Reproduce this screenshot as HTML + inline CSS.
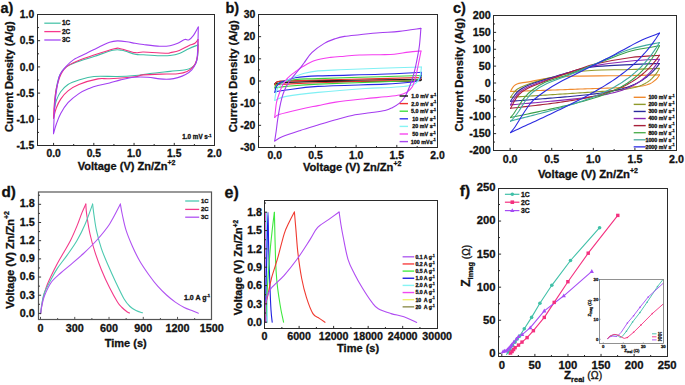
<!DOCTYPE html>
<html><head><meta charset="utf-8"><style>
html,body{margin:0;padding:0;background:#fff;}
body{width:685px;height:385px;overflow:hidden;}
svg{display:block;font-family:"Liberation Sans", sans-serif;}
text{stroke:#111;stroke-width:0.3px;paint-order:stroke;}
</style></head><body>
<svg width="685" height="385" viewBox="0 0 685 385">
<rect width="685" height="385" fill="#fff"/>
<rect x="37.5" y="14.5" width="177.0" height="131.0" fill="none" stroke="#2b2b2b" stroke-width="1"/>
<line x1="53.59" y1="145.5" x2="53.59" y2="142.9" stroke="#2b2b2b" stroke-width="1"/>
<line x1="93.82" y1="145.5" x2="93.82" y2="142.9" stroke="#2b2b2b" stroke-width="1"/>
<line x1="134.05" y1="145.5" x2="134.05" y2="142.9" stroke="#2b2b2b" stroke-width="1"/>
<line x1="174.27" y1="145.5" x2="174.27" y2="142.9" stroke="#2b2b2b" stroke-width="1"/>
<line x1="73.70" y1="145.5" x2="73.70" y2="144.0" stroke="#2b2b2b" stroke-width="1"/>
<line x1="113.93" y1="145.5" x2="113.93" y2="144.0" stroke="#2b2b2b" stroke-width="1"/>
<line x1="154.16" y1="145.5" x2="154.16" y2="144.0" stroke="#2b2b2b" stroke-width="1"/>
<line x1="194.39" y1="145.5" x2="194.39" y2="144.0" stroke="#2b2b2b" stroke-width="1"/>
<line x1="37.5" y1="40.70" x2="40.1" y2="40.70" stroke="#2b2b2b" stroke-width="1"/>
<line x1="37.5" y1="66.90" x2="40.1" y2="66.90" stroke="#2b2b2b" stroke-width="1"/>
<line x1="37.5" y1="93.10" x2="40.1" y2="93.10" stroke="#2b2b2b" stroke-width="1"/>
<line x1="37.5" y1="119.30" x2="40.1" y2="119.30" stroke="#2b2b2b" stroke-width="1"/>
<line x1="37.5" y1="27.60" x2="39.0" y2="27.60" stroke="#2b2b2b" stroke-width="1"/>
<line x1="37.5" y1="53.80" x2="39.0" y2="53.80" stroke="#2b2b2b" stroke-width="1"/>
<line x1="37.5" y1="80.00" x2="39.0" y2="80.00" stroke="#2b2b2b" stroke-width="1"/>
<line x1="37.5" y1="106.20" x2="39.0" y2="106.20" stroke="#2b2b2b" stroke-width="1"/>
<line x1="37.5" y1="132.40" x2="39.0" y2="132.40" stroke="#2b2b2b" stroke-width="1"/>
<text x="53.59" y="157.00" font-size="10.3" text-anchor="middle" font-weight="bold" fill="#111" >0.0</text>
<text x="93.82" y="157.00" font-size="10.3" text-anchor="middle" font-weight="bold" fill="#111" >0.5</text>
<text x="134.05" y="157.00" font-size="10.3" text-anchor="middle" font-weight="bold" fill="#111" >1.0</text>
<text x="174.27" y="157.00" font-size="10.3" text-anchor="middle" font-weight="bold" fill="#111" >1.5</text>
<text x="214.50" y="157.00" font-size="10.3" text-anchor="middle" font-weight="bold" fill="#111" >2.0</text>
<text x="34.20" y="18.20" font-size="10.3" text-anchor="end" font-weight="bold" fill="#111" >1.0</text>
<text x="34.20" y="44.40" font-size="10.3" text-anchor="end" font-weight="bold" fill="#111" >0.5</text>
<text x="34.20" y="70.60" font-size="10.3" text-anchor="end" font-weight="bold" fill="#111" >0.0</text>
<text x="34.20" y="96.80" font-size="10.3" text-anchor="end" font-weight="bold" fill="#111" >-0.5</text>
<text x="34.20" y="123.00" font-size="10.3" text-anchor="end" font-weight="bold" fill="#111" >-1.0</text>
<text x="34.20" y="149.20" font-size="10.3" text-anchor="end" font-weight="bold" fill="#111" >-1.5</text>
<text x="0.50" y="12.80" font-size="14.5" text-anchor="start" font-weight="bold" fill="#111" >a)</text>
<text x="0" y="0" font-size="11" font-weight="bold" text-anchor="start" fill="#111" transform="translate(12.6,131.9) rotate(-90)">Current Density (A/g)</text>
<text x="77.80" y="169.60" font-size="11" text-anchor="start" font-weight="bold" fill="#111" >Voltage (V) Zn/Zn<tspan font-size="7" dy="-4.5">+2</tspan></text>
<line x1="44.3" y1="23.2" x2="60.7" y2="23.2" stroke="#4cc4aa" stroke-width="1.3"/>
<text x="62.00" y="25.30" font-size="6.5" text-anchor="start" font-weight="bold" fill="#111" >1C</text>
<line x1="44.3" y1="31.6" x2="60.7" y2="31.6" stroke="#f7378d" stroke-width="1.3"/>
<text x="62.00" y="33.70" font-size="6.5" text-anchor="start" font-weight="bold" fill="#111" >2C</text>
<line x1="44.3" y1="40.0" x2="60.7" y2="40.0" stroke="#a347f5" stroke-width="1.3"/>
<text x="62.00" y="42.10" font-size="6.5" text-anchor="start" font-weight="bold" fill="#111" >3C</text>
<text x="182.30" y="139.30" font-size="6.3" text-anchor="start" font-weight="bold" fill="#111" >1.0 mV s<tspan font-size="4" dy="-2.5">-1</tspan></text>
<path d="M54.40,109.00 C54.50,107.50 54.73,103.17 55.00,100.00 C55.27,96.83 55.35,93.75 56.00,90.00 C56.65,86.25 57.82,80.75 58.90,77.50 C59.98,74.25 61.20,72.32 62.50,70.50 C63.80,68.68 64.32,68.02 66.70,66.60 C69.08,65.18 72.25,63.68 76.80,62.00 C81.35,60.32 88.02,58.45 94.00,56.50 C99.98,54.55 108.03,51.33 112.70,50.30 C117.37,49.27 118.28,49.65 122.00,50.30 C125.72,50.95 131.43,53.45 135.00,54.20 C138.57,54.95 139.28,54.55 143.40,54.80 C147.52,55.05 155.27,55.58 159.70,55.70 C164.13,55.82 166.73,55.87 170.00,55.50 C173.27,55.13 176.18,54.62 179.30,53.50 C182.42,52.38 185.58,50.23 188.70,48.80 C191.82,47.37 196.45,45.55 198.00,44.90" fill="none" stroke="#3fbfa5" stroke-width="1.1" stroke-linejoin="round" stroke-linecap="round"/>
<path d="M198.00,44.90 C197.95,46.72 198.08,52.68 197.70,55.80 C197.32,58.92 196.68,61.65 195.70,63.60 C194.72,65.55 193.48,66.47 191.80,67.50 C190.12,68.53 189.23,69.15 185.60,69.80 C181.97,70.45 175.93,70.78 170.00,71.40 C164.07,72.02 155.83,72.82 150.00,73.50 C144.17,74.18 140.43,75.00 135.00,75.50 C129.57,76.00 124.23,76.33 117.40,76.50 C110.57,76.67 100.42,75.92 94.00,76.50 C87.58,77.08 83.23,78.67 78.90,80.00 C74.57,81.33 71.03,82.53 68.00,84.50 C64.97,86.47 62.67,89.07 60.70,91.80 C58.73,94.53 57.25,98.03 56.20,100.90 C55.15,103.77 54.70,107.65 54.40,109.00" fill="none" stroke="#3fbfa5" stroke-width="1.1" stroke-linejoin="round" stroke-linecap="round"/>
<path d="M53.50,118.20 C53.58,116.50 53.70,111.87 54.00,108.00 C54.30,104.13 54.72,99.00 55.30,95.00 C55.88,91.00 56.52,87.55 57.50,84.00 C58.48,80.45 59.67,76.60 61.20,73.70 C62.73,70.80 64.10,68.68 66.70,66.60 C69.30,64.52 72.25,63.13 76.80,61.20 C81.35,59.27 87.75,57.08 94.00,55.00 C100.25,52.92 109.88,49.75 114.30,48.70 C118.72,47.65 117.05,48.05 120.50,48.70 C123.95,49.35 131.18,52.05 135.00,52.60 C138.82,53.15 138.12,51.90 143.40,52.00 C148.68,52.10 162.27,53.08 166.70,53.20 C171.13,53.32 167.90,53.17 170.00,52.70 C172.10,52.23 176.18,51.57 179.30,50.40 C182.42,49.23 186.10,46.88 188.70,45.70 C191.30,44.52 193.35,44.33 194.90,43.30 C196.45,42.27 197.48,40.13 198.00,39.50" fill="none" stroke="#f2307f" stroke-width="1.1" stroke-linejoin="round" stroke-linecap="round"/>
<path d="M198.00,39.50 C198.00,41.43 198.25,47.60 198.00,51.10 C197.75,54.60 197.28,57.90 196.50,60.50 C195.72,63.10 194.87,64.88 193.30,66.70 C191.73,68.52 189.68,70.23 187.10,71.40 C184.52,72.57 181.20,73.27 177.80,73.70 C174.40,74.13 172.43,73.80 166.70,74.00 C160.97,74.20 148.68,74.43 143.40,74.90 C138.12,75.37 140.63,76.17 135.00,76.80 C129.37,77.43 115.77,78.35 109.60,78.70 C103.43,79.05 103.12,77.93 98.00,78.90 C92.88,79.87 83.90,82.50 78.90,84.50 C73.90,86.50 71.03,88.47 68.00,90.90 C64.97,93.33 62.67,96.22 60.70,99.10 C58.73,101.98 57.40,105.02 56.20,108.20 C55.00,111.38 53.95,116.53 53.50,118.20" fill="none" stroke="#f2307f" stroke-width="1.1" stroke-linejoin="round" stroke-linecap="round"/>
<path d="M53.50,133.60 C53.58,131.33 53.78,124.77 54.00,120.00 C54.22,115.23 54.37,110.00 54.80,105.00 C55.23,100.00 55.78,94.97 56.60,90.00 C57.42,85.03 58.15,79.10 59.70,75.20 C61.25,71.30 63.57,69.20 65.90,66.60 C68.23,64.00 70.32,61.80 73.70,59.60 C77.08,57.40 82.03,55.47 86.20,53.40 C90.37,51.33 94.80,49.07 98.70,47.20 C102.60,45.33 106.48,43.25 109.60,42.20 C112.72,41.15 114.55,40.98 117.40,40.90 C120.25,40.82 123.77,41.30 126.70,41.70 C129.63,42.10 132.22,42.83 135.00,43.30 C137.78,43.77 139.28,44.02 143.40,44.50 C147.52,44.98 155.27,46.00 159.70,46.20 C164.13,46.40 166.98,46.18 170.00,45.70 C173.02,45.22 175.33,44.33 177.80,43.30 C180.27,42.27 182.98,40.07 184.80,39.50 C186.62,38.93 187.28,40.55 188.70,39.90 C190.12,39.25 191.70,37.75 193.30,35.60 C194.90,33.45 197.47,28.43 198.30,27.00" fill="none" stroke="#a23ff2" stroke-width="1.1" stroke-linejoin="round" stroke-linecap="round"/>
<path d="M198.30,27.00 C198.25,29.20 198.18,35.13 198.00,40.20 C197.82,45.27 197.58,53.50 197.20,57.40 C196.82,61.30 196.60,61.53 195.70,63.60 C194.80,65.67 193.48,67.98 191.80,69.80 C190.12,71.62 187.93,73.20 185.60,74.50 C183.27,75.80 180.40,76.83 177.80,77.60 C175.20,78.37 173.02,78.88 170.00,79.10 C166.98,79.32 163.37,79.22 159.70,78.90 C156.03,78.58 152.28,77.48 148.00,77.20 C143.72,76.92 138.58,76.75 134.00,77.20 C129.42,77.65 124.57,78.93 120.50,79.90 C116.43,80.87 113.35,82.07 109.60,83.00 C105.85,83.93 101.30,84.63 98.00,85.50 C94.70,86.37 92.98,86.85 89.80,88.20 C86.62,89.55 82.53,91.18 78.90,93.60 C75.27,96.02 71.03,99.37 68.00,102.70 C64.97,106.03 62.67,109.97 60.70,113.60 C58.73,117.23 57.40,121.17 56.20,124.50 C55.00,127.83 53.95,132.08 53.50,133.60" fill="none" stroke="#a23ff2" stroke-width="1.1" stroke-linejoin="round" stroke-linecap="round"/>
<path d="M274.80,84.00 C275.17,83.67 275.30,82.50 277.00,82.00 C278.70,81.50 277.83,81.23 285.00,81.00 C292.17,80.77 304.17,80.80 320.00,80.60 C335.83,80.40 363.12,80.03 380.00,79.80 C396.88,79.57 414.42,79.30 421.30,79.20" fill="none" stroke="#1a1a1a" stroke-width="1.1" stroke-linejoin="round" stroke-linecap="round"/>
<path d="M421.30,79.20 C420.92,79.47 422.55,80.47 419.00,80.80 C415.45,81.13 416.50,81.07 400.00,81.20 C383.50,81.33 339.17,81.37 320.00,81.60 C300.83,81.83 292.00,82.30 285.00,82.60 C278.00,82.90 279.70,83.17 278.00,83.40 C276.30,83.63 275.33,83.90 274.80,84.00" fill="none" stroke="#1a1a1a" stroke-width="1.1" stroke-linejoin="round" stroke-linecap="round"/>
<path d="M274.80,84.80 C275.08,84.37 275.63,82.80 276.50,82.20 C277.37,81.60 276.87,81.42 280.00,81.20 C283.13,80.98 288.97,81.10 295.30,80.90 C301.63,80.70 303.88,80.38 318.00,80.00 C332.12,79.62 362.78,79.02 380.00,78.60 C397.22,78.18 414.42,77.68 421.30,77.50" fill="none" stroke="#e8302a" stroke-width="1.1" stroke-linejoin="round" stroke-linecap="round"/>
<path d="M421.30,77.50 C421.00,77.88 421.38,79.28 419.50,79.80 C417.62,80.32 416.58,80.42 410.00,80.60 C403.42,80.78 395.33,80.55 380.00,80.90 C364.67,81.25 333.63,82.17 318.00,82.70 C302.37,83.23 292.87,83.78 286.20,84.10 C279.53,84.42 279.90,84.48 278.00,84.60 C276.10,84.72 275.33,84.77 274.80,84.80" fill="none" stroke="#e8302a" stroke-width="1.1" stroke-linejoin="round" stroke-linecap="round"/>
<path d="M274.80,88.00 C275.00,87.50 274.87,85.95 276.00,85.00 C277.13,84.05 278.38,83.22 281.60,82.30 C284.82,81.38 289.23,80.12 295.30,79.50 C301.37,78.88 303.88,79.07 318.00,78.60 C332.12,78.13 362.78,77.22 380.00,76.70 C397.22,76.18 414.42,75.70 421.30,75.50" fill="none" stroke="#3ad23a" stroke-width="1.1" stroke-linejoin="round" stroke-linecap="round"/>
<path d="M421.30,75.50 C421.08,76.00 421.55,77.67 420.00,78.50 C418.45,79.33 418.67,79.93 412.00,80.50 C405.33,81.07 395.67,81.30 380.00,81.90 C364.33,82.50 333.63,83.35 318.00,84.10 C302.37,84.85 292.87,85.85 286.20,86.40 C279.53,86.95 279.90,87.13 278.00,87.40 C276.10,87.67 275.33,87.90 274.80,88.00" fill="none" stroke="#3ad23a" stroke-width="1.1" stroke-linejoin="round" stroke-linecap="round"/>
<path d="M274.80,92.30 C274.92,91.75 275.27,89.92 275.50,89.00 C275.73,88.08 275.48,87.85 276.20,86.80 C276.92,85.75 278.13,83.75 279.80,82.70 C281.47,81.65 283.62,81.33 286.20,80.50 C288.78,79.67 290.00,78.47 295.30,77.70 C300.60,76.93 303.88,76.47 318.00,75.90 C332.12,75.33 362.77,74.90 380.00,74.30 C397.23,73.70 414.50,72.63 421.40,72.30" fill="none" stroke="#2828e6" stroke-width="1.1" stroke-linejoin="round" stroke-linecap="round"/>
<path d="M421.40,72.30 C421.25,73.20 421.12,76.33 420.50,77.70 C419.88,79.07 419.37,79.73 417.70,80.50 C416.03,81.27 415.95,81.70 410.50,82.30 C405.05,82.90 400.42,83.42 385.00,84.10 C369.58,84.78 334.47,85.42 318.00,86.40 C301.53,87.38 293.02,89.17 286.20,90.00 C279.38,90.83 279.00,91.02 277.10,91.40 C275.20,91.78 275.18,92.15 274.80,92.30" fill="none" stroke="#2828e6" stroke-width="1.1" stroke-linejoin="round" stroke-linecap="round"/>
<path d="M274.80,100.30 C274.92,99.42 274.97,97.10 275.50,95.00 C276.03,92.90 276.22,90.05 278.00,87.70 C279.78,85.35 283.32,82.78 286.20,80.90 C289.08,79.02 292.27,77.68 295.30,76.40 C298.33,75.12 300.62,74.12 304.40,73.20 C308.18,72.28 312.07,71.47 318.00,70.90 C323.93,70.33 329.67,70.23 340.00,69.80 C350.33,69.37 366.43,68.77 380.00,68.30 C393.57,67.83 414.50,67.22 421.40,67.00" fill="none" stroke="#7ff0f4" stroke-width="1.1" stroke-linejoin="round" stroke-linecap="round"/>
<path d="M421.40,67.00 C421.25,68.18 421.12,71.70 420.50,74.10 C419.88,76.50 419.07,79.58 417.70,81.40 C416.33,83.22 414.72,84.15 412.30,85.00 C409.88,85.85 407.75,86.05 403.20,86.50 C398.65,86.95 391.37,87.37 385.00,87.70 C378.63,88.03 376.17,87.72 365.00,88.50 C353.83,89.28 331.13,91.08 318.00,92.40 C304.87,93.72 293.03,95.22 286.20,96.40 C279.37,97.58 278.90,98.85 277.00,99.50 C275.10,100.15 275.17,100.17 274.80,100.30" fill="none" stroke="#7ff0f4" stroke-width="1.1" stroke-linejoin="round" stroke-linecap="round"/>
<path d="M274.70,117.50 C274.83,116.25 275.20,112.50 275.50,110.00 C275.80,107.50 276.02,104.83 276.50,102.50 C276.98,100.17 277.53,98.60 278.40,96.00 C279.27,93.40 280.50,89.50 281.70,86.90 C282.90,84.30 284.08,82.35 285.60,80.40 C287.12,78.45 289.07,76.72 290.80,75.20 C292.53,73.68 294.07,72.70 296.00,71.30 C297.93,69.90 299.25,68.60 302.40,66.80 C305.55,65.00 310.22,62.07 314.90,60.50 C319.58,58.93 325.57,58.12 330.50,57.40 C335.43,56.68 339.63,56.60 344.50,56.20 C349.37,55.80 353.78,55.25 359.70,55.00 C365.62,54.75 374.23,54.82 380.00,54.70 C385.77,54.58 389.53,54.73 394.30,54.30 C399.07,53.87 404.15,52.65 408.60,52.10 C413.05,51.55 418.93,51.18 421.00,51.00" fill="none" stroke="#f43ef0" stroke-width="1.1" stroke-linejoin="round" stroke-linecap="round"/>
<path d="M421.00,51.00 C420.60,53.03 419.45,59.05 418.60,63.20 C417.75,67.35 416.95,71.97 415.90,75.90 C414.85,79.83 413.82,84.07 412.30,86.80 C410.78,89.53 408.93,90.93 406.80,92.30 C404.67,93.67 403.13,94.25 399.50,95.00 C395.87,95.75 390.75,96.18 385.00,96.80 C379.25,97.42 373.22,97.82 365.00,98.70 C356.78,99.58 343.53,100.95 335.70,102.10 C327.87,103.25 323.90,104.42 318.00,105.60 C312.10,106.78 306.78,107.72 300.30,109.20 C293.82,110.68 283.37,113.12 279.10,114.50 C274.83,115.88 275.43,117.00 274.70,117.50" fill="none" stroke="#f43ef0" stroke-width="1.1" stroke-linejoin="round" stroke-linecap="round"/>
<path d="M274.70,141.00 C274.95,139.33 275.72,134.50 276.20,131.00 C276.68,127.50 277.02,123.88 277.60,120.00 C278.18,116.12 279.02,111.27 279.70,107.70 C280.38,104.13 280.93,101.42 281.70,98.60 C282.47,95.78 283.22,93.40 284.30,90.80 C285.38,88.20 286.80,85.28 288.20,83.00 C289.60,80.72 290.97,79.27 292.70,77.10 C294.43,74.93 296.72,72.35 298.60,70.00 C300.48,67.65 301.80,65.88 304.00,63.00 C306.20,60.12 308.42,55.97 311.80,52.70 C315.18,49.43 320.40,45.73 324.30,43.40 C328.20,41.07 331.83,39.87 335.20,38.70 C338.57,37.53 340.42,37.07 344.50,36.40 C348.58,35.73 353.88,35.32 359.70,34.70 C365.52,34.08 372.82,33.25 379.40,32.70 C385.98,32.15 392.28,32.12 399.20,31.40 C406.12,30.68 417.28,28.90 420.90,28.40" fill="none" stroke="#a43cf0" stroke-width="1.1" stroke-linejoin="round" stroke-linecap="round"/>
<path d="M420.90,28.40 C420.67,31.17 420.03,40.42 419.50,45.00 C418.97,49.58 418.30,52.57 417.70,55.90 C417.10,59.23 416.65,61.67 415.90,65.00 C415.15,68.33 414.27,72.27 413.20,75.90 C412.13,79.53 410.87,83.32 409.50,86.80 C408.13,90.28 406.67,94.07 405.00,96.80 C403.33,99.53 401.62,101.38 399.50,103.20 C397.38,105.02 394.72,106.48 392.30,107.70 C389.88,108.92 388.72,109.65 385.00,110.50 C381.28,111.35 375.00,112.08 370.00,112.80 C365.00,113.52 360.72,113.63 355.00,114.80 C349.28,115.97 341.87,118.10 335.70,119.80 C329.53,121.50 323.90,123.23 318.00,125.00 C312.10,126.77 306.18,128.48 300.30,130.40 C294.42,132.32 286.97,134.73 282.70,136.50 C278.43,138.27 276.03,140.25 274.70,141.00" fill="none" stroke="#a43cf0" stroke-width="1.1" stroke-linejoin="round" stroke-linecap="round"/>
<rect x="258.5" y="14.5" width="179.0" height="133.0" fill="none" stroke="#2b2b2b" stroke-width="1"/>
<line x1="274.77" y1="147.5" x2="274.77" y2="144.9" stroke="#2b2b2b" stroke-width="1"/>
<line x1="315.45" y1="147.5" x2="315.45" y2="144.9" stroke="#2b2b2b" stroke-width="1"/>
<line x1="356.14" y1="147.5" x2="356.14" y2="144.9" stroke="#2b2b2b" stroke-width="1"/>
<line x1="396.82" y1="147.5" x2="396.82" y2="144.9" stroke="#2b2b2b" stroke-width="1"/>
<line x1="295.11" y1="147.5" x2="295.11" y2="146.0" stroke="#2b2b2b" stroke-width="1"/>
<line x1="335.80" y1="147.5" x2="335.80" y2="146.0" stroke="#2b2b2b" stroke-width="1"/>
<line x1="376.48" y1="147.5" x2="376.48" y2="146.0" stroke="#2b2b2b" stroke-width="1"/>
<line x1="417.16" y1="147.5" x2="417.16" y2="146.0" stroke="#2b2b2b" stroke-width="1"/>
<line x1="258.5" y1="36.67" x2="261.1" y2="36.67" stroke="#2b2b2b" stroke-width="1"/>
<line x1="258.5" y1="58.83" x2="261.1" y2="58.83" stroke="#2b2b2b" stroke-width="1"/>
<line x1="258.5" y1="81.00" x2="261.1" y2="81.00" stroke="#2b2b2b" stroke-width="1"/>
<line x1="258.5" y1="103.17" x2="261.1" y2="103.17" stroke="#2b2b2b" stroke-width="1"/>
<line x1="258.5" y1="125.33" x2="261.1" y2="125.33" stroke="#2b2b2b" stroke-width="1"/>
<line x1="258.5" y1="25.58" x2="260.0" y2="25.58" stroke="#2b2b2b" stroke-width="1"/>
<line x1="258.5" y1="47.75" x2="260.0" y2="47.75" stroke="#2b2b2b" stroke-width="1"/>
<line x1="258.5" y1="69.92" x2="260.0" y2="69.92" stroke="#2b2b2b" stroke-width="1"/>
<line x1="258.5" y1="92.08" x2="260.0" y2="92.08" stroke="#2b2b2b" stroke-width="1"/>
<line x1="258.5" y1="114.25" x2="260.0" y2="114.25" stroke="#2b2b2b" stroke-width="1"/>
<line x1="258.5" y1="136.42" x2="260.0" y2="136.42" stroke="#2b2b2b" stroke-width="1"/>
<text x="274.77" y="158.90" font-size="10.4" text-anchor="middle" font-weight="bold" fill="#111" >0.0</text>
<text x="315.45" y="158.90" font-size="10.4" text-anchor="middle" font-weight="bold" fill="#111" >0.5</text>
<text x="356.14" y="158.90" font-size="10.4" text-anchor="middle" font-weight="bold" fill="#111" >1.0</text>
<text x="396.82" y="158.90" font-size="10.4" text-anchor="middle" font-weight="bold" fill="#111" >1.5</text>
<text x="437.50" y="158.90" font-size="10.4" text-anchor="middle" font-weight="bold" fill="#111" >2.0</text>
<text x="255.40" y="18.20" font-size="10.4" text-anchor="end" font-weight="bold" fill="#111" >30</text>
<text x="255.40" y="40.37" font-size="10.4" text-anchor="end" font-weight="bold" fill="#111" >20</text>
<text x="255.40" y="62.53" font-size="10.4" text-anchor="end" font-weight="bold" fill="#111" >10</text>
<text x="255.40" y="84.70" font-size="10.4" text-anchor="end" font-weight="bold" fill="#111" >0</text>
<text x="255.40" y="106.87" font-size="10.4" text-anchor="end" font-weight="bold" fill="#111" >-10</text>
<text x="255.40" y="129.03" font-size="10.4" text-anchor="end" font-weight="bold" fill="#111" >-20</text>
<text x="255.40" y="151.20" font-size="10.4" text-anchor="end" font-weight="bold" fill="#111" >-30</text>
<text x="225.50" y="13.00" font-size="14.5" text-anchor="start" font-weight="bold" fill="#111" >b)</text>
<text x="0" y="0" font-size="11.15" font-weight="bold" text-anchor="start" fill="#111" transform="translate(237.0,132.2) rotate(-90)">Current Density (A/g)</text>
<text x="303.00" y="170.50" font-size="11.1" text-anchor="start" font-weight="bold" fill="#111" >Voltage (V) Zn/Zn<tspan font-size="7" dy="-4.5">+2</tspan></text>
<line x1="399.6" y1="96.00" x2="408" y2="96.00" stroke="#111" stroke-width="1.4"/>
<text x="411.30" y="97.90" font-size="5.4" text-anchor="start" font-weight="bold" fill="#111" >1.0 mV s<tspan font-size="3.5" dy="-2.2">-1</tspan></text>
<line x1="399.6" y1="103.60" x2="408" y2="103.60" stroke="#f03030" stroke-width="1.4"/>
<text x="411.30" y="105.50" font-size="5.4" text-anchor="start" font-weight="bold" fill="#111" >2.0 mV s<tspan font-size="3.5" dy="-2.2">-1</tspan></text>
<line x1="399.6" y1="111.20" x2="408" y2="111.20" stroke="#40e040" stroke-width="1.4"/>
<text x="411.00" y="113.10" font-size="5.4" text-anchor="start" font-weight="bold" fill="#111" >5.0 mV s<tspan font-size="3.5" dy="-2.2">-1</tspan></text>
<line x1="399.6" y1="118.80" x2="408" y2="118.80" stroke="#3333ee" stroke-width="1.4"/>
<text x="412.30" y="120.70" font-size="5.4" text-anchor="start" font-weight="bold" fill="#111" >10 mV s<tspan font-size="3.5" dy="-2.2">-1</tspan></text>
<line x1="399.6" y1="126.40" x2="408" y2="126.40" stroke="#88f4f4" stroke-width="1.4"/>
<text x="412.30" y="128.30" font-size="5.4" text-anchor="start" font-weight="bold" fill="#111" >20 mV s<tspan font-size="3.5" dy="-2.2">-1</tspan></text>
<line x1="399.6" y1="134.00" x2="408" y2="134.00" stroke="#f848f0" stroke-width="1.4"/>
<text x="412.30" y="135.90" font-size="5.4" text-anchor="start" font-weight="bold" fill="#111" >50 mV s<tspan font-size="3.5" dy="-2.2">-1</tspan></text>
<line x1="399.6" y1="141.60" x2="408" y2="141.60" stroke="#a848f0" stroke-width="1.4"/>
<text x="410.80" y="143.50" font-size="5.4" text-anchor="start" font-weight="bold" fill="#111" >100 mVs<tspan font-size="3.5" dy="-2.2">-1</tspan></text>
<path d="M510.50,91.50 C510.75,91.02 511.37,89.57 512.00,88.60 C512.63,87.63 513.47,86.47 514.30,85.70 C515.13,84.93 515.82,84.47 517.00,84.00 C518.18,83.53 519.00,83.33 521.40,82.90 C523.80,82.47 527.35,82.12 531.40,81.40 C535.45,80.68 539.77,79.43 545.70,78.60 C551.63,77.77 561.28,76.82 567.00,76.40 C572.72,75.98 572.83,76.20 580.00,76.10 C587.17,76.00 600.00,75.92 610.00,75.80 C620.00,75.68 631.75,75.55 640.00,75.40 C648.25,75.25 656.25,74.98 659.50,74.90" fill="none" stroke="#f08a2e" stroke-width="1.1" stroke-linejoin="round" stroke-linecap="round"/>
<polyline points="510.50,91.50 512.98,91.41 515.47,91.33 517.95,91.24 520.43,91.15 522.92,91.07 525.40,90.98 527.88,90.89 530.37,90.81 532.85,90.72 535.33,90.63 537.82,90.55 540.30,90.46 542.78,90.37 545.27,90.29 547.75,90.20 550.23,90.11 552.72,90.03 555.20,89.94 557.68,89.85 560.17,89.77 562.65,89.68 565.13,89.59 567.62,89.51 570.10,89.42 572.58,89.33 575.07,89.25 577.55,89.16 580.03,89.07 582.52,88.99 585.00,88.90 587.48,88.81 589.97,88.73 592.45,88.64 594.93,88.55 597.42,88.47 599.90,88.38 602.38,88.29 604.87,88.20 607.35,88.11 609.83,88.02 612.32,87.93 614.80,87.84 617.28,87.75 619.77,87.65 622.25,87.54 624.73,87.43 627.22,87.31 629.70,87.18 632.18,87.02 634.67,86.84 637.15,86.61 639.63,86.33 642.12,85.96 644.60,85.46 647.08,84.80 649.57,83.89 652.05,82.63 656.00,79.51 657.30,78.05 658.30,76.74 659.00,75.70 659.50,74.90" fill="none" stroke="#f08a2e" stroke-width="1.1" stroke-linejoin="round" stroke-linecap="round"/>
<path d="M510.50,97.30 C511.00,96.58 512.40,94.33 513.50,93.00 C514.60,91.67 515.30,90.52 517.10,89.30 C518.90,88.08 520.72,87.13 524.30,85.70 C527.88,84.27 533.83,82.13 538.60,80.70 C543.37,79.27 548.15,78.28 552.90,77.10 C557.65,75.92 562.58,74.55 567.10,73.60 C571.62,72.65 575.35,71.97 580.00,71.40 C584.65,70.83 586.50,70.52 595.00,70.20 C603.50,69.88 620.25,69.80 631.00,69.50 C641.75,69.20 654.75,68.58 659.50,68.40" fill="none" stroke="#8f9a2a" stroke-width="1.1" stroke-linejoin="round" stroke-linecap="round"/>
<polyline points="510.50,97.30 512.98,97.14 515.47,96.99 517.95,96.83 520.43,96.67 522.92,96.52 525.40,96.36 527.88,96.20 530.37,96.05 532.85,95.89 535.33,95.73 537.82,95.58 540.30,95.42 542.78,95.26 545.27,95.11 547.75,94.95 550.23,94.79 552.72,94.64 555.20,94.48 557.68,94.32 560.17,94.16 562.65,94.01 565.13,93.85 567.62,93.69 570.10,93.53 572.58,93.38 575.07,93.22 577.55,93.06 580.03,92.90 582.52,92.74 585.00,92.58 587.48,92.42 589.97,92.25 592.45,92.09 594.93,91.92 597.42,91.75 599.90,91.57 602.38,91.39 604.87,91.21 607.35,91.02 609.83,90.82 612.32,90.61 614.80,90.38 617.28,90.14 619.77,89.88 622.25,89.59 624.73,89.27 627.22,88.90 629.70,88.48 632.18,88.00 634.67,87.43 637.15,86.75 639.63,85.95 642.12,84.98 644.60,83.81 647.08,82.38 649.57,80.62 652.05,78.46 656.00,73.94 657.30,72.07 658.30,70.49 659.00,69.30 659.50,68.40" fill="none" stroke="#8f9a2a" stroke-width="1.1" stroke-linejoin="round" stroke-linecap="round"/>
<path d="M510.50,101.30 C511.08,100.42 512.65,97.77 514.00,96.00 C515.35,94.23 516.42,92.42 518.60,90.70 C520.78,88.98 522.58,87.60 527.10,85.70 C531.62,83.80 539.03,81.43 545.70,79.30 C552.37,77.17 561.38,74.57 567.10,72.90 C572.82,71.23 575.35,70.35 580.00,69.30 C584.65,68.25 586.50,67.38 595.00,66.60 C603.50,65.82 620.25,65.12 631.00,64.60 C641.75,64.08 654.75,63.68 659.50,63.50" fill="none" stroke="#2a2a9c" stroke-width="1.1" stroke-linejoin="round" stroke-linecap="round"/>
<polyline points="510.50,101.28 512.98,101.09 515.47,100.90 517.95,100.71 520.43,100.52 522.92,100.33 525.40,100.14 527.88,99.94 530.37,99.75 532.85,99.56 535.33,99.36 537.82,99.17 540.30,98.97 542.78,98.77 545.27,98.58 547.75,98.38 550.23,98.17 552.72,97.97 555.20,97.77 557.68,97.56 560.17,97.35 562.65,97.14 565.13,96.92 567.62,96.70 570.10,96.48 572.58,96.25 575.07,96.01 577.55,95.77 580.03,95.53 582.52,95.27 585.00,95.01 587.48,94.74 589.97,94.45 592.45,94.16 594.93,93.85 597.42,93.52 599.90,93.17 602.38,92.81 604.87,92.42 607.35,92.00 609.83,91.55 612.32,91.07 614.80,90.55 617.28,89.99 619.77,89.38 622.25,88.71 624.73,87.98 627.22,87.17 629.70,86.29 632.18,85.31 634.67,84.23 637.15,83.03 639.63,81.69 642.12,80.21 644.60,78.55 647.08,76.70 649.57,74.63 652.05,72.31 656.00,68.02 657.30,66.43 658.30,65.13 659.00,64.19 659.50,63.50" fill="none" stroke="#2a2a9c" stroke-width="1.1" stroke-linejoin="round" stroke-linecap="round"/>
<path d="M510.50,104.90 C511.08,103.92 512.65,100.98 514.00,99.00 C515.35,97.02 516.42,94.95 518.60,93.00 C520.78,91.05 522.58,89.42 527.10,87.30 C531.62,85.18 539.03,82.68 545.70,80.30 C552.37,77.92 561.38,74.83 567.10,73.00 C572.82,71.17 575.35,70.53 580.00,69.30 C584.65,68.07 586.50,66.98 595.00,65.60 C603.50,64.22 620.25,62.05 631.00,61.00 C641.75,59.95 654.75,59.58 659.50,59.30" fill="none" stroke="#8a2ab4" stroke-width="1.1" stroke-linejoin="round" stroke-linecap="round"/>
<polyline points="510.50,104.88 512.98,104.66 515.47,104.45 517.95,104.23 520.43,104.01 522.92,103.79 525.40,103.57 527.88,103.35 530.37,103.13 532.85,102.91 535.33,102.68 537.82,102.46 540.30,102.24 542.78,102.01 545.27,101.78 547.75,101.55 550.23,101.32 552.72,101.09 555.20,100.85 557.68,100.61 560.17,100.37 562.65,100.13 565.13,99.88 567.62,99.62 570.10,99.37 572.58,99.10 575.07,98.83 577.55,98.55 580.03,98.26 582.52,97.97 585.00,97.66 587.48,97.34 589.97,97.01 592.45,96.66 594.93,96.29 597.42,95.91 599.90,95.50 602.38,95.06 604.87,94.60 607.35,94.10 609.83,93.57 612.32,92.99 614.80,92.37 617.28,91.69 619.77,90.96 622.25,90.15 624.73,89.26 627.22,88.29 629.70,87.21 632.18,86.02 634.67,84.70 637.15,83.24 639.63,81.61 642.12,79.79 644.60,77.77 647.08,75.50 649.57,72.96 652.05,70.11 656.00,64.85 657.30,62.90 658.30,61.31 659.00,60.15 659.50,59.30" fill="none" stroke="#8a2ab4" stroke-width="1.1" stroke-linejoin="round" stroke-linecap="round"/>
<path d="M510.50,108.50 C511.17,107.25 513.08,103.33 514.50,101.00 C515.92,98.67 516.83,96.58 519.00,94.50 C521.17,92.42 523.05,90.75 527.50,88.50 C531.95,86.25 539.10,83.55 545.70,81.00 C552.30,78.45 561.38,75.23 567.10,73.20 C572.82,71.17 575.35,70.33 580.00,68.80 C584.65,67.27 586.50,65.88 595.00,64.00 C603.50,62.12 620.25,58.95 631.00,57.50 C641.75,56.05 654.75,55.67 659.50,55.30" fill="none" stroke="#a8203a" stroke-width="1.1" stroke-linejoin="round" stroke-linecap="round"/>
<polyline points="510.50,108.32 512.98,108.04 515.47,107.76 517.95,107.48 520.43,107.20 522.92,106.92 525.40,106.64 527.88,106.35 530.37,106.06 532.85,105.77 535.33,105.47 537.82,105.17 540.30,104.87 542.78,104.56 545.27,104.25 547.75,103.93 550.23,103.61 552.72,103.28 555.20,102.94 557.68,102.60 560.17,102.25 562.65,101.89 565.13,101.52 567.62,101.14 570.10,100.75 572.58,100.35 575.07,99.94 577.55,99.51 580.03,99.06 582.52,98.60 585.00,98.11 587.48,97.61 589.97,97.09 592.45,96.54 594.93,95.96 597.42,95.35 599.90,94.71 602.38,94.04 604.87,93.33 607.35,92.57 609.83,91.77 612.32,90.92 614.80,90.01 617.28,89.04 619.77,88.01 622.25,86.91 624.73,85.73 627.22,84.46 629.70,83.09 632.18,81.63 634.67,80.05 637.15,78.36 639.63,76.52 642.12,74.54 644.60,72.41 647.08,70.10 649.57,67.59 652.05,64.88 656.00,60.09 657.30,58.38 658.30,57.01 659.00,56.02 659.50,55.30" fill="none" stroke="#a8203a" stroke-width="1.1" stroke-linejoin="round" stroke-linecap="round"/>
<path d="M510.50,117.60 C511.00,117.00 512.40,115.52 513.50,114.00 C514.60,112.48 515.30,111.18 517.10,108.50 C518.90,105.82 521.92,100.87 524.30,97.90 C526.68,94.93 527.83,93.33 531.40,90.70 C534.97,88.07 539.75,84.72 545.70,82.10 C551.65,79.48 561.38,77.02 567.10,75.00 C572.82,72.98 573.68,72.42 580.00,70.00 C586.32,67.58 596.50,63.67 605.00,60.50 C613.50,57.33 621.92,53.45 631.00,51.00 C640.08,48.55 654.75,46.67 659.50,45.80" fill="none" stroke="#3aa04a" stroke-width="1.1" stroke-linejoin="round" stroke-linecap="round"/>
<polyline points="510.50,117.52 512.98,117.01 515.47,116.50 517.95,115.99 520.43,115.47 522.92,114.96 525.40,114.44 527.88,113.93 530.37,113.41 532.85,112.89 535.33,112.36 537.82,111.84 540.30,111.31 542.78,110.78 545.27,110.24 547.75,109.70 550.23,109.16 552.72,108.61 555.20,108.06 557.68,107.50 560.17,106.93 562.65,106.36 565.13,105.78 567.62,105.19 570.10,104.59 572.58,103.98 575.07,103.36 577.55,102.73 580.03,102.08 582.52,101.41 585.00,100.72 587.48,100.02 589.97,99.29 592.45,98.54 594.93,97.76 597.42,96.95 599.90,96.11 602.38,95.23 604.87,94.31 607.35,93.34 609.83,92.32 612.32,91.25 614.80,90.11 617.28,88.90 619.77,87.62 622.25,86.25 624.73,84.78 627.22,83.21 629.70,81.52 632.18,79.71 634.67,77.75 637.15,75.63 639.63,73.33 642.12,70.84 644.60,68.13 647.08,65.18 649.57,61.97 652.05,58.45 656.00,52.18 657.30,49.90 658.30,48.08 659.00,46.76 659.50,45.80" fill="none" stroke="#3aa04a" stroke-width="1.1" stroke-linejoin="round" stroke-linecap="round"/>
<path d="M510.50,121.30 C511.17,120.58 513.08,118.72 514.50,117.00 C515.92,115.28 517.08,113.83 519.00,111.00 C520.92,108.17 523.67,103.17 526.00,100.00 C528.33,96.83 529.50,94.75 533.00,92.00 C536.50,89.25 541.33,86.20 547.00,83.50 C552.67,80.80 561.50,77.92 567.00,75.80 C572.50,73.68 573.67,73.52 580.00,70.80 C586.33,68.08 596.50,63.13 605.00,59.50 C613.50,55.87 621.92,51.83 631.00,49.00 C640.08,46.17 654.75,43.58 659.50,42.50" fill="none" stroke="#40aaa0" stroke-width="1.1" stroke-linejoin="round" stroke-linecap="round"/>
<polyline points="510.50,121.00 512.98,120.38 515.47,119.77 517.95,119.15 520.43,118.52 522.92,117.90 525.40,117.27 527.88,116.64 530.37,116.01 532.85,115.37 535.33,114.72 537.82,114.08 540.30,113.42 542.78,112.76 545.27,112.10 547.75,111.43 550.23,110.75 552.72,110.06 555.20,109.37 557.68,108.66 560.17,107.95 562.65,107.22 565.13,106.48 567.62,105.73 570.10,104.97 572.58,104.19 575.07,103.40 577.55,102.58 580.03,101.75 582.52,100.90 585.00,100.02 587.48,99.12 589.97,98.19 592.45,97.23 594.93,96.24 597.42,95.22 599.90,94.15 602.38,93.05 604.87,91.90 607.35,90.71 609.83,89.46 612.32,88.15 614.80,86.79 617.28,85.35 619.77,83.84 622.25,82.26 624.73,80.58 627.22,78.82 629.70,76.95 632.18,74.97 634.67,72.87 637.15,70.64 639.63,68.27 642.12,65.75 644.60,63.06 647.08,60.18 649.57,57.11 652.05,53.83 656.00,48.12 657.30,46.10 658.30,44.49 659.00,43.34 659.50,42.50" fill="none" stroke="#40aaa0" stroke-width="1.1" stroke-linejoin="round" stroke-linecap="round"/>
<path d="M510.50,132.70 C511.25,131.75 513.42,129.28 515.00,127.00 C516.58,124.72 518.22,121.83 520.00,119.00 C521.78,116.17 523.55,113.05 525.70,110.00 C527.85,106.95 529.57,103.92 532.90,100.70 C536.23,97.48 541.18,93.80 545.70,90.70 C550.22,87.60 554.28,85.20 560.00,82.10 C565.72,79.00 574.50,74.87 580.00,72.10 C585.50,69.33 587.83,68.12 593.00,65.50 C598.17,62.88 604.92,59.58 611.00,56.40 C617.08,53.22 624.33,49.13 629.50,46.40 C634.67,43.67 637.00,42.22 642.00,40.00 C647.00,37.78 656.58,34.25 659.50,33.10" fill="none" stroke="#2a2ae0" stroke-width="1.1" stroke-linejoin="round" stroke-linecap="round"/>
<polyline points="510.50,132.54 512.98,131.41 515.47,130.28 517.95,129.14 520.43,128.00 522.92,126.86 525.40,125.72 527.88,124.58 530.37,123.44 532.85,122.29 535.33,121.14 537.82,119.99 540.30,118.83 542.78,117.67 545.27,116.50 547.75,115.34 550.23,114.16 552.72,112.98 555.20,111.80 557.68,110.61 560.17,109.41 562.65,108.21 565.13,107.00 567.62,105.77 570.10,104.54 572.58,103.30 575.07,102.05 577.55,100.78 580.03,99.50 582.52,98.21 585.00,96.90 587.48,95.57 589.97,94.22 592.45,92.85 594.93,91.46 597.42,90.04 599.90,88.60 602.38,87.12 604.87,85.61 607.35,84.06 609.83,82.48 612.32,80.85 614.80,79.17 617.28,77.44 619.77,75.65 622.25,73.81 624.73,71.89 627.22,69.90 629.70,67.83 632.18,65.67 634.67,63.42 637.15,61.06 639.63,58.58 642.12,55.98 644.60,53.24 647.08,50.35 649.57,47.29 652.05,44.06 656.00,38.50 657.30,36.55 658.30,35.01 659.00,33.90 659.50,33.10" fill="none" stroke="#2a2ae0" stroke-width="1.1" stroke-linejoin="round" stroke-linecap="round"/>
<rect x="493.5" y="15.5" width="183.0" height="135.0" fill="none" stroke="#2b2b2b" stroke-width="1"/>
<line x1="510.14" y1="150.5" x2="510.14" y2="147.9" stroke="#2b2b2b" stroke-width="1"/>
<line x1="551.73" y1="150.5" x2="551.73" y2="147.9" stroke="#2b2b2b" stroke-width="1"/>
<line x1="593.32" y1="150.5" x2="593.32" y2="147.9" stroke="#2b2b2b" stroke-width="1"/>
<line x1="634.91" y1="150.5" x2="634.91" y2="147.9" stroke="#2b2b2b" stroke-width="1"/>
<line x1="530.93" y1="150.5" x2="530.93" y2="149.0" stroke="#2b2b2b" stroke-width="1"/>
<line x1="572.52" y1="150.5" x2="572.52" y2="149.0" stroke="#2b2b2b" stroke-width="1"/>
<line x1="614.11" y1="150.5" x2="614.11" y2="149.0" stroke="#2b2b2b" stroke-width="1"/>
<line x1="655.70" y1="150.5" x2="655.70" y2="149.0" stroke="#2b2b2b" stroke-width="1"/>
<line x1="493.5" y1="32.38" x2="496.1" y2="32.38" stroke="#2b2b2b" stroke-width="1"/>
<line x1="493.5" y1="49.25" x2="496.1" y2="49.25" stroke="#2b2b2b" stroke-width="1"/>
<line x1="493.5" y1="66.12" x2="496.1" y2="66.12" stroke="#2b2b2b" stroke-width="1"/>
<line x1="493.5" y1="83.00" x2="496.1" y2="83.00" stroke="#2b2b2b" stroke-width="1"/>
<line x1="493.5" y1="99.88" x2="496.1" y2="99.88" stroke="#2b2b2b" stroke-width="1"/>
<line x1="493.5" y1="116.75" x2="496.1" y2="116.75" stroke="#2b2b2b" stroke-width="1"/>
<line x1="493.5" y1="133.62" x2="496.1" y2="133.62" stroke="#2b2b2b" stroke-width="1"/>
<line x1="493.5" y1="23.94" x2="495.0" y2="23.94" stroke="#2b2b2b" stroke-width="1"/>
<line x1="493.5" y1="40.81" x2="495.0" y2="40.81" stroke="#2b2b2b" stroke-width="1"/>
<line x1="493.5" y1="57.69" x2="495.0" y2="57.69" stroke="#2b2b2b" stroke-width="1"/>
<line x1="493.5" y1="74.56" x2="495.0" y2="74.56" stroke="#2b2b2b" stroke-width="1"/>
<line x1="493.5" y1="91.44" x2="495.0" y2="91.44" stroke="#2b2b2b" stroke-width="1"/>
<line x1="493.5" y1="108.31" x2="495.0" y2="108.31" stroke="#2b2b2b" stroke-width="1"/>
<line x1="493.5" y1="125.19" x2="495.0" y2="125.19" stroke="#2b2b2b" stroke-width="1"/>
<line x1="493.5" y1="142.06" x2="495.0" y2="142.06" stroke="#2b2b2b" stroke-width="1"/>
<text x="510.14" y="162.50" font-size="10.7" text-anchor="middle" font-weight="bold" fill="#111" >0.0</text>
<text x="551.73" y="162.50" font-size="10.7" text-anchor="middle" font-weight="bold" fill="#111" >0.5</text>
<text x="593.32" y="162.50" font-size="10.7" text-anchor="middle" font-weight="bold" fill="#111" >1.0</text>
<text x="634.91" y="162.50" font-size="10.7" text-anchor="middle" font-weight="bold" fill="#111" >1.5</text>
<text x="676.50" y="162.50" font-size="10.7" text-anchor="middle" font-weight="bold" fill="#111" >2.0</text>
<text x="490.80" y="19.00" font-size="10.8" text-anchor="end" font-weight="bold" fill="#111" >200</text>
<text x="490.80" y="35.88" font-size="10.8" text-anchor="end" font-weight="bold" fill="#111" >150</text>
<text x="490.80" y="52.75" font-size="10.8" text-anchor="end" font-weight="bold" fill="#111" >100</text>
<text x="490.80" y="69.62" font-size="10.8" text-anchor="end" font-weight="bold" fill="#111" >50</text>
<text x="490.80" y="86.50" font-size="10.8" text-anchor="end" font-weight="bold" fill="#111" >0</text>
<text x="490.80" y="103.38" font-size="10.8" text-anchor="end" font-weight="bold" fill="#111" >-50</text>
<text x="490.80" y="120.25" font-size="10.8" text-anchor="end" font-weight="bold" fill="#111" >-100</text>
<text x="490.80" y="137.12" font-size="10.8" text-anchor="end" font-weight="bold" fill="#111" >-150</text>
<text x="490.80" y="154.00" font-size="10.8" text-anchor="end" font-weight="bold" fill="#111" >-200</text>
<text x="453.00" y="12.60" font-size="14.5" text-anchor="start" font-weight="bold" fill="#111" >c)</text>
<text x="0" y="0" font-size="11.3" font-weight="bold" text-anchor="start" fill="#111" transform="translate(462.9,131.6) rotate(-90)">Current Density (A/g)</text>
<text x="537.90" y="177.60" font-size="11.3" text-anchor="start" font-weight="bold" fill="#111" >Voltage (V) Zn/Zn<tspan font-size="7" dy="-4.5">+2</tspan></text>
<line x1="633.7" y1="97.30" x2="645.7" y2="97.30" stroke="#f08a2e" stroke-width="1.4"/>
<text x="671.40" y="99.20" font-size="5.3" text-anchor="end" font-weight="bold" fill="#111" >100 mV s</text>
<text x="671.60" y="96.70" font-size="3.2" text-anchor="start" font-weight="bold" fill="#111" >-1</text>
<line x1="633.7" y1="104.38" x2="645.7" y2="104.38" stroke="#8f9a2a" stroke-width="1.4"/>
<text x="671.40" y="106.28" font-size="5.3" text-anchor="end" font-weight="bold" fill="#111" >200 mV s</text>
<text x="671.60" y="103.78" font-size="3.2" text-anchor="start" font-weight="bold" fill="#111" >-1</text>
<line x1="633.7" y1="111.46" x2="645.7" y2="111.46" stroke="#2a2a9c" stroke-width="1.4"/>
<text x="671.40" y="113.36" font-size="5.3" text-anchor="end" font-weight="bold" fill="#111" >300 mV s</text>
<text x="671.60" y="110.86" font-size="3.2" text-anchor="start" font-weight="bold" fill="#111" >-1</text>
<line x1="633.7" y1="118.54" x2="645.7" y2="118.54" stroke="#8a2ab4" stroke-width="1.4"/>
<text x="671.40" y="120.44" font-size="5.3" text-anchor="end" font-weight="bold" fill="#111" >400 mV s</text>
<text x="671.60" y="117.94" font-size="3.2" text-anchor="start" font-weight="bold" fill="#111" >-1</text>
<line x1="633.7" y1="125.62" x2="645.7" y2="125.62" stroke="#a8203a" stroke-width="1.4"/>
<text x="671.40" y="127.52" font-size="5.3" text-anchor="end" font-weight="bold" fill="#111" >500 mV s</text>
<text x="671.60" y="125.02" font-size="3.2" text-anchor="start" font-weight="bold" fill="#111" >-1</text>
<line x1="633.7" y1="132.70" x2="645.7" y2="132.70" stroke="#52b052" stroke-width="1.4"/>
<text x="671.40" y="134.60" font-size="5.3" text-anchor="end" font-weight="bold" fill="#111" >800 mV s</text>
<text x="671.60" y="132.10" font-size="3.2" text-anchor="start" font-weight="bold" fill="#111" >-1</text>
<line x1="633.7" y1="139.78" x2="645.7" y2="139.78" stroke="#5cb0a8" stroke-width="1.4"/>
<text x="671.40" y="141.68" font-size="5.3" text-anchor="end" font-weight="bold" fill="#111" >1000 mV s</text>
<text x="671.60" y="139.18" font-size="3.2" text-anchor="start" font-weight="bold" fill="#111" >-1</text>
<line x1="633.7" y1="146.86" x2="645.7" y2="146.86" stroke="#3a3ae8" stroke-width="1.4"/>
<text x="671.40" y="148.76" font-size="5.3" text-anchor="end" font-weight="bold" fill="#111" >2000 mV s</text>
<text x="671.60" y="146.26" font-size="3.2" text-anchor="start" font-weight="bold" fill="#111" >-1</text>
<path d="M40.60,313.60 C40.98,311.17 41.98,303.33 42.90,299.00 C43.82,294.67 44.75,291.40 46.10,287.60 C47.45,283.80 49.10,280.27 51.00,276.20 C52.90,272.13 55.33,267.25 57.50,263.20 C59.67,259.15 61.83,255.68 64.00,251.90 C66.17,248.12 68.33,244.83 70.50,240.50 C72.67,236.17 75.10,230.50 77.00,225.90 C78.90,221.30 80.43,216.53 81.90,212.90 C83.37,209.27 85.15,205.57 85.80,204.10" fill="none" stroke="#f43a8a" stroke-width="1.1" stroke-linejoin="round" stroke-linecap="round"/>
<path d="M85.80,204.10 C85.95,205.83 86.00,209.52 86.70,214.50 C87.40,219.48 88.63,227.77 90.00,234.00 C91.37,240.23 93.00,245.95 94.90,251.90 C96.80,257.85 98.97,263.75 101.40,269.70 C103.83,275.65 106.80,282.18 109.50,287.60 C112.20,293.02 115.52,298.88 117.60,302.20 C119.68,305.52 120.38,305.87 122.00,307.50 C123.62,309.13 126.05,311.08 127.30,312.00 C128.55,312.92 129.13,312.83 129.50,313.00" fill="none" stroke="#f43a8a" stroke-width="1.1" stroke-linejoin="round" stroke-linecap="round"/>
<path d="M40.60,313.60 C40.83,311.83 41.35,306.52 42.00,303.00 C42.65,299.48 43.00,296.42 44.50,292.50 C46.00,288.58 48.83,283.57 51.00,279.50 C53.17,275.43 54.80,272.17 57.50,268.10 C60.20,264.03 63.95,259.70 67.20,255.10 C70.45,250.50 74.02,245.65 77.00,240.50 C79.98,235.35 82.50,230.27 85.10,224.20 C87.70,218.13 91.35,207.45 92.60,204.10" fill="none" stroke="#4cc9b0" stroke-width="1.1" stroke-linejoin="round" stroke-linecap="round"/>
<path d="M92.60,204.10 C92.82,205.83 93.25,210.07 93.90,214.50 C94.55,218.93 95.25,225.02 96.50,230.70 C97.75,236.38 99.50,242.92 101.40,248.60 C103.30,254.28 105.47,259.12 107.90,264.80 C110.33,270.48 113.30,277.00 116.00,282.70 C118.70,288.40 121.77,295.03 124.10,299.00 C126.43,302.97 128.02,304.58 130.00,306.50 C131.98,308.42 133.92,309.45 136.00,310.50 C138.08,311.55 141.42,312.42 142.50,312.80" fill="none" stroke="#4cc9b0" stroke-width="1.1" stroke-linejoin="round" stroke-linecap="round"/>
<path d="M40.60,313.60 C40.83,312.17 41.35,307.98 42.00,305.00 C42.65,302.02 43.00,299.42 44.50,295.70 C46.00,291.98 48.30,286.48 51.00,282.70 C53.70,278.92 57.45,275.98 60.70,273.00 C63.95,270.02 66.70,268.05 70.50,264.80 C74.30,261.55 79.17,257.55 83.50,253.50 C87.83,249.45 92.17,245.38 96.50,240.50 C100.83,235.62 105.52,230.27 109.50,224.20 C113.48,218.13 118.58,207.45 120.40,204.10" fill="none" stroke="#b052f2" stroke-width="1.1" stroke-linejoin="round" stroke-linecap="round"/>
<path d="M120.40,204.10 C120.72,205.83 121.33,210.07 122.30,214.50 C123.27,218.93 124.47,225.28 126.20,230.70 C127.93,236.12 130.40,241.87 132.70,247.00 C135.00,252.13 137.32,256.88 140.00,261.50 C142.68,266.12 145.85,270.58 148.80,274.70 C151.75,278.82 154.75,282.82 157.70,286.20 C160.65,289.58 163.57,292.35 166.50,295.00 C169.43,297.65 172.35,300.03 175.30,302.10 C178.25,304.17 181.25,305.92 184.20,307.40 C187.15,308.88 190.65,310.02 193.00,311.00 C195.35,311.98 197.42,312.92 198.30,313.30" fill="none" stroke="#b052f2" stroke-width="1.1" stroke-linejoin="round" stroke-linecap="round"/>
<rect x="38.5" y="192.0" width="173.0" height="127.5" fill="none" stroke="#555" stroke-width="1.2"/>
<line x1="40.50" y1="319.5" x2="40.50" y2="316.9" stroke="#555" stroke-width="1"/>
<line x1="74.76" y1="319.5" x2="74.76" y2="316.9" stroke="#555" stroke-width="1"/>
<line x1="109.02" y1="319.5" x2="109.02" y2="316.9" stroke="#555" stroke-width="1"/>
<line x1="143.28" y1="319.5" x2="143.28" y2="316.9" stroke="#555" stroke-width="1"/>
<line x1="177.54" y1="319.5" x2="177.54" y2="316.9" stroke="#555" stroke-width="1"/>
<line x1="57.63" y1="319.5" x2="57.63" y2="318.0" stroke="#555" stroke-width="1"/>
<line x1="91.89" y1="319.5" x2="91.89" y2="318.0" stroke="#555" stroke-width="1"/>
<line x1="126.15" y1="319.5" x2="126.15" y2="318.0" stroke="#555" stroke-width="1"/>
<line x1="160.41" y1="319.5" x2="160.41" y2="318.0" stroke="#555" stroke-width="1"/>
<line x1="194.67" y1="319.5" x2="194.67" y2="318.0" stroke="#555" stroke-width="1"/>
<line x1="38.5" y1="313.40" x2="41.1" y2="313.40" stroke="#333" stroke-width="1"/>
<line x1="38.5" y1="295.22" x2="41.1" y2="295.22" stroke="#333" stroke-width="1"/>
<line x1="38.5" y1="277.04" x2="41.1" y2="277.04" stroke="#333" stroke-width="1"/>
<line x1="38.5" y1="258.86" x2="41.1" y2="258.86" stroke="#333" stroke-width="1"/>
<line x1="38.5" y1="240.68" x2="41.1" y2="240.68" stroke="#333" stroke-width="1"/>
<line x1="38.5" y1="222.50" x2="41.1" y2="222.50" stroke="#333" stroke-width="1"/>
<line x1="38.5" y1="204.32" x2="41.1" y2="204.32" stroke="#333" stroke-width="1"/>
<line x1="38.5" y1="304.31" x2="40.0" y2="304.31" stroke="#333" stroke-width="1"/>
<line x1="38.5" y1="286.13" x2="40.0" y2="286.13" stroke="#333" stroke-width="1"/>
<line x1="38.5" y1="267.95" x2="40.0" y2="267.95" stroke="#333" stroke-width="1"/>
<line x1="38.5" y1="249.77" x2="40.0" y2="249.77" stroke="#333" stroke-width="1"/>
<line x1="38.5" y1="231.59" x2="40.0" y2="231.59" stroke="#333" stroke-width="1"/>
<line x1="38.5" y1="213.41" x2="40.0" y2="213.41" stroke="#333" stroke-width="1"/>
<line x1="38.5" y1="195.23" x2="40.0" y2="195.23" stroke="#333" stroke-width="1"/>
<text x="40.50" y="331.90" font-size="10.8" text-anchor="middle" font-weight="bold" fill="#111" >0</text>
<text x="74.76" y="331.90" font-size="10.8" text-anchor="middle" font-weight="bold" fill="#111" >300</text>
<text x="109.02" y="331.90" font-size="10.8" text-anchor="middle" font-weight="bold" fill="#111" >600</text>
<text x="143.28" y="331.90" font-size="10.8" text-anchor="middle" font-weight="bold" fill="#111" >900</text>
<text x="177.54" y="331.90" font-size="10.8" text-anchor="middle" font-weight="bold" fill="#111" >1200</text>
<text x="211.80" y="331.90" font-size="10.8" text-anchor="middle" font-weight="bold" fill="#111" >1500</text>
<text x="34.80" y="316.80" font-size="10.8" text-anchor="end" font-weight="bold" fill="#111" >0.0</text>
<text x="34.80" y="298.56" font-size="10.8" text-anchor="end" font-weight="bold" fill="#111" >0.3</text>
<text x="34.80" y="280.32" font-size="10.8" text-anchor="end" font-weight="bold" fill="#111" >0.6</text>
<text x="34.80" y="262.08" font-size="10.8" text-anchor="end" font-weight="bold" fill="#111" >0.9</text>
<text x="34.80" y="243.84" font-size="10.8" text-anchor="end" font-weight="bold" fill="#111" >1.2</text>
<text x="34.80" y="225.60" font-size="10.8" text-anchor="end" font-weight="bold" fill="#111" >1.5</text>
<text x="34.80" y="207.36" font-size="10.8" text-anchor="end" font-weight="bold" fill="#111" >1.8</text>
<text x="1.50" y="197.20" font-size="15.3" text-anchor="start" font-weight="bold" fill="#111" >d)</text>
<text x="0" y="0" font-size="11" font-weight="bold" text-anchor="start" fill="#111" transform="translate(13.6,308.7) rotate(-90)">Voltage (V) Zn/Zn<tspan font-size="7" dy="-4.5">+2</tspan></text>
<text x="104.70" y="346.50" font-size="11" text-anchor="start" font-weight="bold" fill="#111" >Time (s)</text>
<line x1="185.2" y1="201.0" x2="199.2" y2="201.0" stroke="#4cc9b0" stroke-width="1.3"/>
<text x="201.00" y="203.00" font-size="5.9" text-anchor="start" font-weight="bold" fill="#111" >1C</text>
<line x1="185.2" y1="209.4" x2="199.2" y2="209.4" stroke="#f43a8a" stroke-width="1.3"/>
<text x="201.00" y="211.40" font-size="5.9" text-anchor="start" font-weight="bold" fill="#111" >2C</text>
<line x1="185.2" y1="217.2" x2="199.2" y2="217.2" stroke="#b052f2" stroke-width="1.3"/>
<text x="201.00" y="219.20" font-size="5.9" text-anchor="start" font-weight="bold" fill="#111" >3C</text>
<text x="184.00" y="299.70" font-size="7.0" text-anchor="start" font-weight="bold" fill="#111" >1.0 A g<tspan font-size="4" dy="-2.8">-1</tspan></text>
<polyline points="265.00,322.20 265.10,212.22 265.30,322.20" fill="none" stroke="#8f8f50" stroke-width="1.1" stroke-linejoin="round" stroke-linecap="round"/>
<polyline points="265.20,322.20 265.40,212.22 265.70,322.20" fill="none" stroke="#eeee60" stroke-width="1.1" stroke-linejoin="round" stroke-linecap="round"/>
<polyline points="265.40,322.20 265.70,212.22 266.10,322.20" fill="none" stroke="#f040f0" stroke-width="1.1" stroke-linejoin="round" stroke-linecap="round"/>
<polyline points="265.80,322.20 266.50,212.22 267.40,322.20" fill="none" stroke="#80f0f4" stroke-width="1.1" stroke-linejoin="round" stroke-linecap="round"/>
<path d="M265.60,322.20 C265.67,316.09 265.77,297.76 266.00,285.54 C266.23,273.32 266.67,261.10 267.00,248.88 C267.33,236.66 267.72,212.22 268.00,212.22 C268.28,212.22 268.38,236.66 268.70,248.88 C269.02,261.10 269.52,275.36 269.90,285.54 C270.28,295.72 270.62,303.87 271.00,309.98 C271.38,316.09 272.00,320.16 272.20,322.20" fill="none" stroke="#2020e0" stroke-width="1.1" stroke-linejoin="round" stroke-linecap="round"/>
<path d="M265.80,316.09 C266.08,311.00 266.80,296.23 267.50,285.54 C268.20,274.85 269.17,261.61 270.00,251.94 C270.83,242.26 271.77,234.11 272.50,227.50 C273.23,220.88 274.08,214.77 274.40,212.22" fill="none" stroke="#3ee83e" stroke-width="1.1" stroke-linejoin="round" stroke-linecap="round"/>
<path d="M274.40,212.22 C274.60,220.37 275.17,249.39 275.60,261.10 C276.03,272.81 276.43,276.38 277.00,282.49 C277.57,288.60 278.33,293.18 279.00,297.76 C279.67,302.34 280.23,305.91 281.00,309.98 C281.77,314.05 283.17,320.16 283.60,322.20" fill="none" stroke="#3ee83e" stroke-width="1.1" stroke-linejoin="round" stroke-linecap="round"/>
<path d="M265.20,322.20 C265.27,319.35 265.13,309.67 265.60,305.09 C266.07,300.51 267.03,299.14 268.00,294.70 C268.97,290.27 269.77,284.67 271.40,278.50 C273.03,272.33 275.67,265.15 277.80,257.70 C279.93,250.25 282.33,239.65 284.20,233.80 C286.07,227.95 287.30,226.23 289.00,222.60 C290.70,218.97 293.50,213.77 294.40,212.00" fill="none" stroke="#f03a30" stroke-width="1.1" stroke-linejoin="round" stroke-linecap="round"/>
<path d="M294.40,212.00 C294.67,215.10 295.42,223.78 296.00,230.60 C296.58,237.42 296.95,244.92 297.90,252.90 C298.85,260.88 300.27,271.03 301.70,278.50 C303.13,285.97 304.63,291.85 306.50,297.70 C308.37,303.55 310.77,310.15 312.90,313.60 C315.03,317.05 317.28,316.95 319.30,318.40 C321.32,319.85 324.05,321.65 325.00,322.30" fill="none" stroke="#f03a30" stroke-width="1.1" stroke-linejoin="round" stroke-linecap="round"/>
<path d="M265.00,322.20 C265.07,319.65 265.07,311.12 265.40,306.93 C265.73,302.73 266.00,300.15 267.00,297.00 C268.00,293.85 268.53,291.62 271.40,288.00 C274.27,284.38 279.93,280.08 284.20,275.30 C288.47,270.52 292.75,265.17 297.00,259.30 C301.25,253.43 306.25,245.42 309.70,240.10 C313.15,234.78 314.50,230.85 317.70,227.40 C320.90,223.95 325.33,221.97 328.90,219.40 C332.47,216.83 337.40,213.23 339.10,212.00" fill="none" stroke="#b04cf2" stroke-width="1.1" stroke-linejoin="round" stroke-linecap="round"/>
<path d="M339.10,212.00 C339.42,214.17 340.32,220.83 341.00,225.00 C341.68,229.17 342.03,231.28 343.20,237.00 C344.37,242.72 346.13,253.18 348.00,259.30 C349.87,265.42 352.00,268.92 354.40,273.70 C356.80,278.48 359.47,283.22 362.40,288.00 C365.33,292.78 369.35,298.93 372.00,302.40 C374.65,305.87 375.12,306.93 378.30,308.80 C381.48,310.67 386.83,312.27 391.10,313.60 C395.37,314.93 399.63,315.33 403.90,316.80 C408.17,318.27 414.57,321.47 416.70,322.40" fill="none" stroke="#b04cf2" stroke-width="1.1" stroke-linejoin="round" stroke-linecap="round"/>
<rect x="264.5" y="200.5" width="173.0" height="128.0" fill="none" stroke="#2b2b2b" stroke-width="1"/>
<line x1="299.12" y1="328.5" x2="299.12" y2="325.9" stroke="#2b2b2b" stroke-width="1"/>
<line x1="333.64" y1="328.5" x2="333.64" y2="325.9" stroke="#2b2b2b" stroke-width="1"/>
<line x1="368.16" y1="328.5" x2="368.16" y2="325.9" stroke="#2b2b2b" stroke-width="1"/>
<line x1="402.68" y1="328.5" x2="402.68" y2="325.9" stroke="#2b2b2b" stroke-width="1"/>
<line x1="281.86" y1="328.5" x2="281.86" y2="327.0" stroke="#2b2b2b" stroke-width="1"/>
<line x1="316.38" y1="328.5" x2="316.38" y2="327.0" stroke="#2b2b2b" stroke-width="1"/>
<line x1="350.90" y1="328.5" x2="350.90" y2="327.0" stroke="#2b2b2b" stroke-width="1"/>
<line x1="385.42" y1="328.5" x2="385.42" y2="327.0" stroke="#2b2b2b" stroke-width="1"/>
<line x1="419.94" y1="328.5" x2="419.94" y2="327.0" stroke="#2b2b2b" stroke-width="1"/>
<line x1="264.5" y1="322.20" x2="267.1" y2="322.20" stroke="#2b2b2b" stroke-width="1"/>
<line x1="264.5" y1="303.87" x2="267.1" y2="303.87" stroke="#2b2b2b" stroke-width="1"/>
<line x1="264.5" y1="285.54" x2="267.1" y2="285.54" stroke="#2b2b2b" stroke-width="1"/>
<line x1="264.5" y1="267.21" x2="267.1" y2="267.21" stroke="#2b2b2b" stroke-width="1"/>
<line x1="264.5" y1="248.88" x2="267.1" y2="248.88" stroke="#2b2b2b" stroke-width="1"/>
<line x1="264.5" y1="230.55" x2="267.1" y2="230.55" stroke="#2b2b2b" stroke-width="1"/>
<line x1="264.5" y1="212.22" x2="267.1" y2="212.22" stroke="#2b2b2b" stroke-width="1"/>
<line x1="264.5" y1="313.03" x2="266.0" y2="313.03" stroke="#2b2b2b" stroke-width="1"/>
<line x1="264.5" y1="294.70" x2="266.0" y2="294.70" stroke="#2b2b2b" stroke-width="1"/>
<line x1="264.5" y1="276.38" x2="266.0" y2="276.38" stroke="#2b2b2b" stroke-width="1"/>
<line x1="264.5" y1="258.04" x2="266.0" y2="258.04" stroke="#2b2b2b" stroke-width="1"/>
<line x1="264.5" y1="239.71" x2="266.0" y2="239.71" stroke="#2b2b2b" stroke-width="1"/>
<line x1="264.5" y1="221.38" x2="266.0" y2="221.38" stroke="#2b2b2b" stroke-width="1"/>
<line x1="264.5" y1="203.06" x2="266.0" y2="203.06" stroke="#2b2b2b" stroke-width="1"/>
<text x="264.60" y="340.00" font-size="10.7" text-anchor="middle" font-weight="bold" fill="#111" >0</text>
<text x="299.12" y="340.00" font-size="10.7" text-anchor="middle" font-weight="bold" fill="#111" >6000</text>
<text x="333.64" y="340.00" font-size="10.7" text-anchor="middle" font-weight="bold" fill="#111" >12000</text>
<text x="368.16" y="340.00" font-size="10.7" text-anchor="middle" font-weight="bold" fill="#111" >18000</text>
<text x="402.68" y="340.00" font-size="10.7" text-anchor="middle" font-weight="bold" fill="#111" >24000</text>
<text x="437.20" y="340.00" font-size="10.7" text-anchor="middle" font-weight="bold" fill="#111" >30000</text>
<text x="262.00" y="326.00" font-size="10.7" text-anchor="end" font-weight="bold" fill="#111" >0.0</text>
<text x="262.00" y="307.67" font-size="10.7" text-anchor="end" font-weight="bold" fill="#111" >0.3</text>
<text x="262.00" y="289.34" font-size="10.7" text-anchor="end" font-weight="bold" fill="#111" >0.6</text>
<text x="262.00" y="271.01" font-size="10.7" text-anchor="end" font-weight="bold" fill="#111" >0.9</text>
<text x="262.00" y="252.68" font-size="10.7" text-anchor="end" font-weight="bold" fill="#111" >1.2</text>
<text x="262.00" y="234.35" font-size="10.7" text-anchor="end" font-weight="bold" fill="#111" >1.5</text>
<text x="262.00" y="216.02" font-size="10.7" text-anchor="end" font-weight="bold" fill="#111" >1.8</text>
<text x="224.60" y="198.30" font-size="16" text-anchor="start" font-weight="bold" fill="#111" >e)</text>
<text x="0" y="0" font-size="10.8" font-weight="bold" text-anchor="start" fill="#111" transform="translate(242.2,315.3) rotate(-90)">Voltage (V) Zn/Zn<tspan font-size="6.5" dy="-4">+2</tspan></text>
<text x="337.10" y="351.50" font-size="11" text-anchor="start" font-weight="bold" fill="#111" >Time (s)</text>
<line x1="402.6" y1="256.80" x2="414.2" y2="256.80" stroke="#b060f0" stroke-width="1.4"/>
<text x="415.40" y="258.70" font-size="5.2" text-anchor="start" font-weight="bold" fill="#111" xml:space="preserve">0.1 A g<tspan font-size="3.0" dy="-2.2">-1</tspan></text>
<line x1="402.6" y1="263.95" x2="414.2" y2="263.95" stroke="#f84040" stroke-width="1.4"/>
<text x="415.40" y="265.85" font-size="5.2" text-anchor="start" font-weight="bold" fill="#111" xml:space="preserve">0.2 A g<tspan font-size="3.0" dy="-2.2">-1</tspan></text>
<line x1="402.6" y1="271.10" x2="414.2" y2="271.10" stroke="#48ee48" stroke-width="1.4"/>
<text x="415.40" y="273.00" font-size="5.2" text-anchor="start" font-weight="bold" fill="#111" xml:space="preserve">0.5 A g<tspan font-size="3.0" dy="-2.2">-1</tspan></text>
<line x1="402.6" y1="278.25" x2="414.2" y2="278.25" stroke="#2020e0" stroke-width="1.4"/>
<text x="415.40" y="280.15" font-size="5.2" text-anchor="start" font-weight="bold" fill="#111" xml:space="preserve">1.0 A g<tspan font-size="3.0" dy="-2.2">-1</tspan></text>
<line x1="402.6" y1="285.40" x2="414.2" y2="285.40" stroke="#88f4f4" stroke-width="1.4"/>
<text x="415.40" y="287.30" font-size="5.2" text-anchor="start" font-weight="bold" fill="#111" xml:space="preserve">2.0 A g<tspan font-size="3.0" dy="-2.2">-1</tspan></text>
<line x1="402.6" y1="292.55" x2="414.2" y2="292.55" stroke="#f048f0" stroke-width="1.4"/>
<text x="415.40" y="294.45" font-size="5.2" text-anchor="start" font-weight="bold" fill="#111" xml:space="preserve">5.0 A g<tspan font-size="3.0" dy="-2.2">-1</tspan></text>
<line x1="402.6" y1="299.70" x2="414.2" y2="299.70" stroke="#f0f070" stroke-width="1.4"/>
<text x="415.40" y="301.60" font-size="5.2" text-anchor="start" font-weight="bold" fill="#111" xml:space="preserve">10  A g<tspan font-size="3.0" dy="-2.2">-1</tspan></text>
<line x1="402.6" y1="306.85" x2="414.2" y2="306.85" stroke="#8f8f50" stroke-width="1.4"/>
<text x="415.40" y="308.75" font-size="5.2" text-anchor="start" font-weight="bold" fill="#111" xml:space="preserve">20  A g<tspan font-size="3.0" dy="-2.2">-1</tspan></text>
<polyline points="506.60,354.30 508.30,352.00 510.00,349.40 512.60,345.50 515.10,342.10 517.30,338.80 519.60,336.00 524.30,328.70 531.60,317.40 539.90,303.30 551.80,285.30 570.50,260.50 599.60,227.70" fill="none" stroke="#40c0a8" stroke-width="1.1" stroke-linejoin="round" stroke-linecap="round"/>
<polyline points="509.10,354.30 510.60,353.00 512.10,351.50 513.60,349.60 515.10,347.70 518.50,345.10 522.00,342.10 527.10,337.60 533.40,330.70 544.30,317.40 554.20,302.40 567.90,281.70 588.20,253.20 617.80,215.40" fill="none" stroke="#f4307f" stroke-width="1.1" stroke-linejoin="round" stroke-linecap="round"/>
<polyline points="501.90,353.60 503.10,351.50 504.60,351.00 506.10,350.70 507.60,349.50 509.10,348.10 510.40,346.40 511.70,344.70 513.80,342.10 516.40,339.10 518.50,336.50 522.20,334.60 530.30,327.70 544.30,310.90 563.80,295.80 591.80,271.40" fill="none" stroke="#a64cf4" stroke-width="1.1" stroke-linejoin="round" stroke-linecap="round"/>
<circle cx="508.30" cy="352.00" r="1.8" fill="#40c0a8"/>
<circle cx="510.00" cy="349.40" r="1.8" fill="#40c0a8"/>
<circle cx="512.60" cy="345.50" r="1.8" fill="#40c0a8"/>
<circle cx="515.10" cy="342.10" r="1.8" fill="#40c0a8"/>
<circle cx="517.30" cy="338.80" r="1.8" fill="#40c0a8"/>
<circle cx="519.60" cy="336.00" r="1.8" fill="#40c0a8"/>
<circle cx="524.30" cy="328.70" r="1.8" fill="#40c0a8"/>
<circle cx="531.60" cy="317.40" r="1.8" fill="#40c0a8"/>
<circle cx="539.90" cy="303.30" r="1.8" fill="#40c0a8"/>
<circle cx="551.80" cy="285.30" r="1.8" fill="#40c0a8"/>
<circle cx="570.50" cy="260.50" r="1.8" fill="#40c0a8"/>
<circle cx="599.60" cy="227.70" r="1.8" fill="#40c0a8"/>
<rect x="508.90" y="351.30" width="3.4" height="3.4" fill="#f4307f"/>
<rect x="510.40" y="349.80" width="3.4" height="3.4" fill="#f4307f"/>
<rect x="511.90" y="347.90" width="3.4" height="3.4" fill="#f4307f"/>
<rect x="513.40" y="346.00" width="3.4" height="3.4" fill="#f4307f"/>
<rect x="516.80" y="343.40" width="3.4" height="3.4" fill="#f4307f"/>
<rect x="520.30" y="340.40" width="3.4" height="3.4" fill="#f4307f"/>
<rect x="525.40" y="335.90" width="3.4" height="3.4" fill="#f4307f"/>
<rect x="531.70" y="329.00" width="3.4" height="3.4" fill="#f4307f"/>
<rect x="542.60" y="315.70" width="3.4" height="3.4" fill="#f4307f"/>
<rect x="552.50" y="300.70" width="3.4" height="3.4" fill="#f4307f"/>
<rect x="566.20" y="280.00" width="3.4" height="3.4" fill="#f4307f"/>
<rect x="586.50" y="251.50" width="3.4" height="3.4" fill="#f4307f"/>
<rect x="616.10" y="213.70" width="3.4" height="3.4" fill="#f4307f"/>
<path d="M503.10,349.20 L505.20,353.00 L501.00,353.00Z" fill="#a64cf4"/>
<path d="M504.60,348.70 L506.70,352.50 L502.50,352.50Z" fill="#a64cf4"/>
<path d="M506.10,348.40 L508.20,352.20 L504.00,352.20Z" fill="#a64cf4"/>
<path d="M507.60,347.20 L509.70,351.00 L505.50,351.00Z" fill="#a64cf4"/>
<path d="M509.10,345.80 L511.20,349.60 L507.00,349.60Z" fill="#a64cf4"/>
<path d="M510.40,344.10 L512.50,347.90 L508.30,347.90Z" fill="#a64cf4"/>
<path d="M511.70,342.40 L513.80,346.20 L509.60,346.20Z" fill="#a64cf4"/>
<path d="M513.80,339.80 L515.90,343.60 L511.70,343.60Z" fill="#a64cf4"/>
<path d="M516.40,336.80 L518.50,340.60 L514.30,340.60Z" fill="#a64cf4"/>
<path d="M518.50,334.20 L520.60,338.00 L516.40,338.00Z" fill="#a64cf4"/>
<path d="M522.20,332.30 L524.30,336.10 L520.10,336.10Z" fill="#a64cf4"/>
<path d="M530.30,325.40 L532.40,329.20 L528.20,329.20Z" fill="#a64cf4"/>
<path d="M544.30,308.60 L546.40,312.40 L542.20,312.40Z" fill="#a64cf4"/>
<path d="M563.80,293.50 L565.90,297.30 L561.70,297.30Z" fill="#a64cf4"/>
<path d="M591.80,269.10 L593.90,272.90 L589.70,272.90Z" fill="#a64cf4"/>
<rect x="498.5" y="188.5" width="169.0" height="168.0" fill="none" stroke="#2b2b2b" stroke-width="1"/>
<line x1="501.80" y1="356.5" x2="501.80" y2="353.9" stroke="#2b2b2b" stroke-width="1"/>
<line x1="534.88" y1="356.5" x2="534.88" y2="353.9" stroke="#2b2b2b" stroke-width="1"/>
<line x1="567.96" y1="356.5" x2="567.96" y2="353.9" stroke="#2b2b2b" stroke-width="1"/>
<line x1="601.04" y1="356.5" x2="601.04" y2="353.9" stroke="#2b2b2b" stroke-width="1"/>
<line x1="634.12" y1="356.5" x2="634.12" y2="353.9" stroke="#2b2b2b" stroke-width="1"/>
<line x1="518.34" y1="356.5" x2="518.34" y2="355.0" stroke="#2b2b2b" stroke-width="1"/>
<line x1="551.42" y1="356.5" x2="551.42" y2="355.0" stroke="#2b2b2b" stroke-width="1"/>
<line x1="584.50" y1="356.5" x2="584.50" y2="355.0" stroke="#2b2b2b" stroke-width="1"/>
<line x1="617.58" y1="356.5" x2="617.58" y2="355.0" stroke="#2b2b2b" stroke-width="1"/>
<line x1="650.66" y1="356.5" x2="650.66" y2="355.0" stroke="#2b2b2b" stroke-width="1"/>
<line x1="498.5" y1="353.30" x2="501.1" y2="353.30" stroke="#2b2b2b" stroke-width="1"/>
<line x1="498.5" y1="320.24" x2="501.1" y2="320.24" stroke="#2b2b2b" stroke-width="1"/>
<line x1="498.5" y1="287.18" x2="501.1" y2="287.18" stroke="#2b2b2b" stroke-width="1"/>
<line x1="498.5" y1="254.12" x2="501.1" y2="254.12" stroke="#2b2b2b" stroke-width="1"/>
<line x1="498.5" y1="221.06" x2="501.1" y2="221.06" stroke="#2b2b2b" stroke-width="1"/>
<line x1="498.5" y1="336.77" x2="500.0" y2="336.77" stroke="#2b2b2b" stroke-width="1"/>
<line x1="498.5" y1="303.71" x2="500.0" y2="303.71" stroke="#2b2b2b" stroke-width="1"/>
<line x1="498.5" y1="270.65" x2="500.0" y2="270.65" stroke="#2b2b2b" stroke-width="1"/>
<line x1="498.5" y1="237.59" x2="500.0" y2="237.59" stroke="#2b2b2b" stroke-width="1"/>
<line x1="498.5" y1="204.53" x2="500.0" y2="204.53" stroke="#2b2b2b" stroke-width="1"/>
<text x="501.80" y="368.90" font-size="11.3" text-anchor="middle" font-weight="bold" fill="#111" >0</text>
<text x="534.88" y="368.90" font-size="11.3" text-anchor="middle" font-weight="bold" fill="#111" >50</text>
<text x="567.96" y="368.90" font-size="11.3" text-anchor="middle" font-weight="bold" fill="#111" >100</text>
<text x="601.04" y="368.90" font-size="11.3" text-anchor="middle" font-weight="bold" fill="#111" >150</text>
<text x="634.12" y="368.90" font-size="11.3" text-anchor="middle" font-weight="bold" fill="#111" >200</text>
<text x="667.20" y="368.90" font-size="11.3" text-anchor="middle" font-weight="bold" fill="#111" >250</text>
<text x="495.60" y="356.70" font-size="11.3" text-anchor="end" font-weight="bold" fill="#111" >0</text>
<text x="495.60" y="323.64" font-size="11.3" text-anchor="end" font-weight="bold" fill="#111" >50</text>
<text x="495.60" y="290.58" font-size="11.3" text-anchor="end" font-weight="bold" fill="#111" >100</text>
<text x="495.60" y="257.52" font-size="11.3" text-anchor="end" font-weight="bold" fill="#111" >150</text>
<text x="495.60" y="224.46" font-size="11.3" text-anchor="end" font-weight="bold" fill="#111" >200</text>
<text x="495.60" y="191.40" font-size="11.3" text-anchor="end" font-weight="bold" fill="#111" >250</text>
<text x="459.80" y="196.30" font-size="15.5" text-anchor="start" font-weight="bold" fill="#111" >f)</text>
<text x="0" y="0" font-size="12" font-weight="bold" fill="#111" transform="translate(469.9,286.8) rotate(-90)">Z<tspan font-size="7.5" dy="3">imag</tspan><tspan dy="-3" font-size="10" font-weight="normal"> (Ω)</tspan></text>
<text x="564.0" y="379.1" font-size="11.6" font-weight="bold" fill="#111">Z<tspan font-size="7.5" dy="3">real</tspan><tspan dy="-3" font-size="10.5" font-weight="normal"> (Ω)</tspan></text>
<line x1="504.9" y1="194.3" x2="519.4" y2="194.3" stroke="#40c0a8" stroke-width="1.2"/>
<circle cx="512.3" cy="194.3" r="1.8" fill="#40c0a8"/>
<text x="521.00" y="196.70" font-size="6.8" text-anchor="start" font-weight="bold" fill="#111" >1C</text>
<line x1="504.9" y1="202.2" x2="519.4" y2="202.2" stroke="#f4307f" stroke-width="1.2"/>
<rect x="510.5" y="200.39999999999998" width="3.6" height="3.6" fill="#f4307f"/>
<text x="521.00" y="204.60" font-size="6.8" text-anchor="start" font-weight="bold" fill="#111" >2C</text>
<line x1="504.9" y1="210.6" x2="519.4" y2="210.6" stroke="#a64cf4" stroke-width="1.2"/>
<path d="M512.3,208.29999999999998 L514.4,212.0 L510.2,212.0Z" fill="#a64cf4"/>
<text x="521.00" y="213.00" font-size="6.8" text-anchor="start" font-weight="bold" fill="#111" >3C</text>
<polyline points="607.70,338.60 609.50,336.40 611.80,335.50 614.00,334.80 616.00,334.80 618.00,335.60 620.10,337.50 622.20,336.50 626.40,331.30 632.60,322.00 639.90,312.60 647.10,302.20 657.50,286.60 662.90,279.60" fill="none" stroke="#40c0a8" stroke-width="0.9" stroke-linejoin="round" stroke-linecap="round"/>
<polyline points="607.70,338.60 610.00,336.80 612.90,336.10 615.00,336.40 617.00,336.50 621.20,332.30 627.40,323.00 633.60,315.70 639.90,307.40 648.20,297.00 662.90,283.50" fill="none" stroke="#a64cf4" stroke-width="0.9" stroke-linejoin="round" stroke-linecap="round"/>
<polyline points="607.70,338.60 610.00,336.00 613.90,334.40 616.50,334.60 619.10,335.50 621.50,337.20 624.30,338.40 627.40,337.50 633.60,332.30 640.90,325.10 652.30,313.60 662.90,304.30" fill="none" stroke="#f4307f" stroke-width="0.9" stroke-linejoin="round" stroke-linecap="round"/>
<circle cx="626.4" cy="331.3" r="0.8" fill="#40c0a8"/>
<circle cx="632.6" cy="322" r="0.8" fill="#40c0a8"/>
<circle cx="639.9" cy="312.6" r="0.8" fill="#40c0a8"/>
<circle cx="647.1" cy="302.2" r="0.8" fill="#40c0a8"/>
<circle cx="657.5" cy="286.6" r="0.8" fill="#40c0a8"/>
<circle cx="627.4" cy="323" r="0.8" fill="#a64cf4"/>
<circle cx="633.6" cy="315.7" r="0.8" fill="#a64cf4"/>
<circle cx="639.9" cy="307.4" r="0.8" fill="#a64cf4"/>
<circle cx="648.2" cy="297" r="0.8" fill="#a64cf4"/>
<circle cx="627.4" cy="337.5" r="0.8" fill="#f4307f"/>
<circle cx="633.6" cy="332.3" r="0.8" fill="#f4307f"/>
<circle cx="640.9" cy="325.1" r="0.8" fill="#f4307f"/>
<circle cx="652.3" cy="313.6" r="0.8" fill="#f4307f"/>
<rect x="599.5" y="279.5" width="64.0" height="64.0" fill="none" stroke="#777" stroke-width="0.8"/>
<line x1="599.5" y1="339.30" x2="600.7" y2="339.30" stroke="#777" stroke-width="0.6"/>
<line x1="599.5" y1="319.30" x2="600.7" y2="319.30" stroke="#777" stroke-width="0.6"/>
<line x1="599.5" y1="299.30" x2="600.7" y2="299.30" stroke="#777" stroke-width="0.6"/>
<line x1="603.30" y1="343.5" x2="603.30" y2="342.3" stroke="#777" stroke-width="0.6"/>
<line x1="623.30" y1="343.5" x2="623.30" y2="342.3" stroke="#777" stroke-width="0.6"/>
<line x1="643.30" y1="343.5" x2="643.30" y2="342.3" stroke="#777" stroke-width="0.6"/>
<text x="598.30" y="340.80" font-size="4.3" text-anchor="end" font-weight="bold" fill="#222" >0</text>
<text x="598.30" y="320.80" font-size="4.3" text-anchor="end" font-weight="bold" fill="#222" >10</text>
<text x="598.30" y="300.80" font-size="4.3" text-anchor="end" font-weight="bold" fill="#222" >20</text>
<text x="598.30" y="280.80" font-size="4.3" text-anchor="end" font-weight="bold" fill="#222" >30</text>
<text x="603.30" y="348.00" font-size="4.3" text-anchor="middle" font-weight="bold" fill="#222" >0</text>
<text x="623.30" y="348.00" font-size="4.3" text-anchor="middle" font-weight="bold" fill="#222" >10</text>
<text x="643.30" y="348.00" font-size="4.3" text-anchor="middle" font-weight="bold" fill="#222" >20</text>
<text x="663.30" y="348.00" font-size="4.3" text-anchor="middle" font-weight="bold" fill="#222" >30</text>
<line x1="652.0" y1="333.8" x2="656.5" y2="333.8" stroke="#40c0a8" stroke-width="0.9"/>
<text x="658.00" y="334.90" font-size="3.0" text-anchor="start" font-weight="bold" fill="#333" >1C</text>
<line x1="652.0" y1="336.8" x2="656.5" y2="336.8" stroke="#f4307f" stroke-width="0.9"/>
<text x="658.00" y="337.90" font-size="3.0" text-anchor="start" font-weight="bold" fill="#333" >2C</text>
<line x1="652.0" y1="339.9" x2="656.5" y2="339.9" stroke="#a64cf4" stroke-width="0.9"/>
<text x="658.00" y="341.00" font-size="3.0" text-anchor="start" font-weight="bold" fill="#333" >3C</text>
<text x="0" y="0" font-size="4.3" font-weight="bold" fill="#222" transform="translate(591.2,316.5) rotate(-90)">Z<tspan font-size="3" dy="1">imag</tspan><tspan dy="-1" font-weight="normal"> (Ω)</tspan></text>
<text x="624.3" y="351.6" font-size="4.3" font-weight="bold" fill="#222">Z<tspan font-size="3" dy="1">real</tspan><tspan dy="-1" font-weight="normal"> (Ω)</tspan></text>
</svg></body></html>
